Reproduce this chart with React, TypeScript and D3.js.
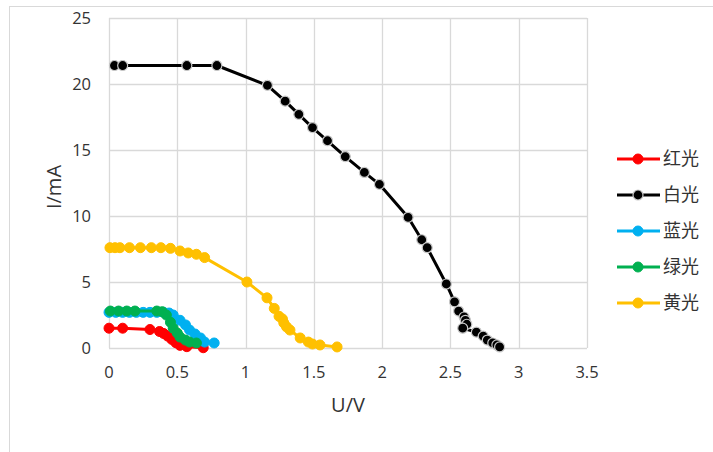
import React, { useEffect, useRef } from "react";
import * as d3 from "d3";

const xTicks = [0, 0.5, 1, 1.5, 2, 2.5, 3, 3.5];
const yTicks = [0, 5, 10, 15, 20, 25];

const seriesNames = ["红光", "白光", "蓝光", "绿光", "黄光"];
const seriesColors = ["#FF0000", "#000000", "#00B0F0", "#00B050", "#FFC000"];

const redU = [0.0, 0.1, 0.3, 0.37, 0.4, 0.43, 0.46, 0.49, 0.52, 0.57, 0.69];
const redI = [1.5, 1.5, 1.4, 1.25, 1.1, 0.9, 0.65, 0.4, 0.2, 0.1, 0.02];

const whiteU = [0.04, 0.1, 0.57, 0.79, 1.16, 1.29, 1.39, 1.49, 1.6, 1.73, 1.87, 1.98, 2.19, 2.29, 2.33, 2.47, 2.53, 2.56, 2.6, 2.61, 2.62, 2.59, 2.69, 2.74, 2.77, 2.81, 2.84, 2.86];
const whiteI = [21.4, 21.4, 21.4, 21.4, 19.9, 18.7, 17.7, 16.7, 15.7, 14.5, 13.3, 12.4, 9.9, 8.2, 7.6, 4.85, 3.5, 2.8, 2.35, 2.1, 1.8, 1.5, 1.2, 0.9, 0.6, 0.38, 0.23, 0.08];

const blueU = [0.0, 0.05, 0.1, 0.15, 0.2, 0.25, 0.3, 0.35, 0.4, 0.44, 0.47, 0.52, 0.56, 0.59, 0.63, 0.67, 0.7, 0.77];
const blueI = [2.7, 2.7, 2.7, 2.7, 2.7, 2.7, 2.7, 2.7, 2.7, 2.65, 2.5, 2.1, 1.75, 1.36, 1.06, 0.76, 0.45, 0.38];

const greenU = [0.01, 0.07, 0.13, 0.19, 0.35, 0.39, 0.42, 0.45, 0.47, 0.5, 0.52, 0.56, 0.59, 0.64];
const greenI = [2.8, 2.8, 2.8, 2.8, 2.8, 2.75, 2.5, 1.95, 1.5, 1.13, 0.83, 0.6, 0.45, 0.38];

const yellowU = [0.007, 0.044, 0.08, 0.15, 0.23, 0.31, 0.38, 0.45, 0.52, 0.58, 0.64, 0.7, 1.01, 1.157, 1.21, 1.245, 1.27, 1.28, 1.3, 1.325, 1.4, 1.46, 1.49, 1.545, 1.67];
const yellowI = [7.6, 7.6, 7.6, 7.6, 7.6, 7.6, 7.6, 7.55, 7.35, 7.2, 7.1, 6.85, 5.0, 3.8, 3.0, 2.4, 2.2, 1.9, 1.6, 1.36, 0.76, 0.45, 0.3, 0.23, 0.08];

const seriesU = [redU, whiteU, blueU, greenU, yellowU];
const seriesI = [redI, whiteI, blueI, greenI, yellowI];

export default function App() {
  const ref = useRef<SVGSVGElement>(null);

  useEffect(() => {
    const svg = d3.select(ref.current);
    svg.selectAll("*").remove();
    const W = 713, H = 452;
    const left = 109, right = 587, top = 18, bottom = 348;
    const x = d3.scaleLinear().domain([0, 3.5]).range([left, right]);
    const y = d3.scaleLinear().domain([0, 25]).range([bottom, top]);
    const font = "'Open Sans', 'Noto Sans', sans-serif";
    const cjk = "'Noto Sans CJK SC', sans-serif";

    svg.append("rect").attr("width", W).attr("height", H).attr("fill", "#fff");
    svg.append("rect").attr("x", 9.5).attr("y", 6.5).attr("width", 760).attr("height", 500)
      .attr("fill", "none").attr("stroke", "#d9d9d9").attr("stroke-width", 1);

    const grid = svg.append("g");
    yTicks.forEach((t) => {
      grid.append("line").attr("x1", left).attr("x2", right)
        .attr("y1", Math.round(y(t)) + 0.5).attr("y2", Math.round(y(t)) + 0.5)
        .attr("stroke", "#d9d9d9").attr("stroke-width", 1.3);
    });
    xTicks.forEach((t) => {
      grid.append("line").attr("y1", top).attr("y2", bottom)
        .attr("x1", Math.round(x(t)) + 0.5).attr("x2", Math.round(x(t)) + 0.5)
        .attr("stroke", "#d9d9d9").attr("stroke-width", 1.3);
    });

    const ax = svg.append("g").attr("font-family", font).attr("font-size", 16.5).attr("fill", "#333");
    yTicks.forEach((t) => {
      ax.append("text").attr("x", 91).attr("y", y(t)).attr("dy", "0.35em")
        .attr("text-anchor", "end").text(String(t));
    });
    xTicks.forEach((t) => {
      ax.append("text").attr("x", x(t)).attr("y", 372).attr("dy", "0.35em")
        .attr("text-anchor", "middle").text(String(t));
    });
    svg.append("text").attr("font-family", font).attr("font-size", 20).attr("fill", "#333")
      .attr("text-anchor", "middle").attr("transform", `translate(54,187) rotate(-90)`)
      .attr("dy", "0.35em").text("I/mA");
    svg.append("text").attr("font-family", font).attr("font-size", 20).attr("fill", "#333")
      .attr("text-anchor", "middle").attr("x", 348).attr("y", 405).attr("dy", "0.35em").text("U/V");

    const line = d3.line<[number, number]>().x((d) => x(d[0])).y((d) => y(d[1]));
    seriesNames.forEach((name, k) => {
      const pts: [number, number][] = seriesU[k].map((u, i) => [u, seriesI[k][i]]);
      const g = svg.append("g");
      g.append("path").attr("d", line(pts) as string).attr("fill", "none")
        .attr("stroke", seriesColors[k]).attr("stroke-width", 3).attr("stroke-linejoin", "round");
      g.selectAll("circle").data(pts).enter().append("circle")
        .attr("cx", (d) => x(d[0])).attr("cy", (d) => y(d[1]))
        .attr("r", 5)
        .attr("fill", seriesColors[k])
        .attr("stroke", k === 1 ? "#c8c8c8" : seriesColors[k])
        .attr("stroke-width", k === 1 ? 1.2 : 1);
    });

    const lg = svg.append("g");
    const rowY = [159, 195, 231, 267, 303];
    seriesNames.forEach((name, k) => {
      lg.append("line").attr("x1", 617).attr("x2", 660).attr("y1", rowY[k]).attr("y2", rowY[k])
        .attr("stroke", seriesColors[k]).attr("stroke-width", 3);
      lg.append("circle").attr("cx", 638).attr("cy", rowY[k]).attr("r", 5)
        .attr("fill", seriesColors[k])
        .attr("stroke", k === 1 ? "#c8c8c8" : seriesColors[k]).attr("stroke-width", k === 1 ? 1.2 : 1);
      lg.append("text").attr("x", 663).attr("y", rowY[k]).attr("dy", "0.36em")
        .attr("font-family", cjk).attr("font-size", 18).attr("fill", "#333").text(name);
    });
  }, []);

  return (
    <svg ref={ref} width={713} height={452}
      style={{ position: "absolute", left: 0, top: 0, display: "block" }} />
  );
}
